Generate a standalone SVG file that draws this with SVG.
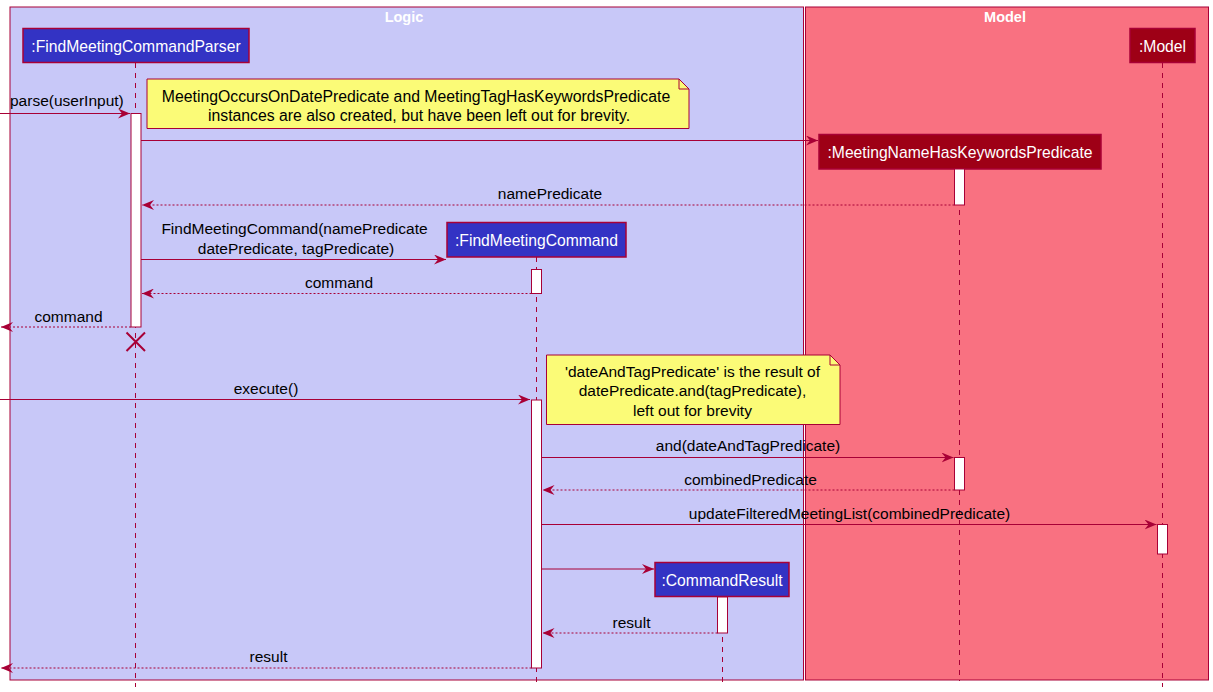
<svg xmlns="http://www.w3.org/2000/svg" width="1213" height="692" viewBox="0 0 1213 692">
<defs>
<style>
text{font-family:"Liberation Sans",Arial,sans-serif;font-size:15.5px;fill:#000}
.title{font-weight:bold;fill:#fff;font-size:14.5px;text-anchor:middle}
.pname{fill:#fff;text-anchor:middle;font-size:15.7px}
.lbl{text-anchor:middle}
.nt{text-anchor:middle;font-size:15.8px}
.plog{fill:#3333C4;stroke:#A80036;stroke-width:1.5}
.pmod{fill:#9E0016;stroke:#A80036;stroke-width:1.5}
.life{stroke:#A80036;stroke-width:1;stroke-dasharray:5,5;fill:none}
.act{fill:#fff;stroke:#A80036;stroke-width:1}
.msg{stroke:#A80036;stroke-width:1;fill:none;marker-end:url(#ah)}
.ret{stroke:#A80036;stroke-width:1;fill:none;stroke-dasharray:2,2;marker-end:url(#ah)}
.note{fill:#FBFB77;stroke:#A80036;stroke-width:1}
</style>
<marker id="ah" viewBox="0 0 12 10" refX="12" refY="5" markerWidth="12" markerHeight="10" markerUnits="userSpaceOnUse" orient="auto">
<path d="M0,0 L12,5 L0,10 L4,5 Z" fill="#A80036"/>
</marker>
</defs>

<g id="box-logic">
<rect x="10" y="7" width="793.5" height="673" fill="#C8C8F8" stroke="#A80036" stroke-width="1"/>
<text class="title" x="404" y="22">Logic</text>
</g>
<g id="box-model">
<rect x="805.5" y="7" width="403" height="673" fill="#F97181" stroke="#A80036" stroke-width="1"/>
<text class="title" x="1005" y="22">Model</text>
</g>

<g id="lifelines">
<line class="life" x1="135.5" y1="63" x2="135.5" y2="687"/>
<line class="life" x1="536.5" y1="257" x2="536.5" y2="687"/>
<line class="life" x1="722.5" y1="597" x2="722.5" y2="687"/>
<line class="life" x1="959.5" y1="170" x2="959.5" y2="681"/>
<line class="life" x1="1162.5" y1="63" x2="1162.5" y2="687"/>
</g>

<g id="p-parser">
<rect class="plog" x="23" y="28.5" width="226" height="34"/>
<text class="pname" x="136" y="51.5">:FindMeetingCommandParser</text>
</g>
<g id="p-model">
<rect class="pmod" x="1130" y="28.5" width="65" height="34"/>
<text class="pname" x="1162.5" y="51.5">:Model</text>
</g>
<g id="p-namepred">
<rect class="pmod" x="819" y="134.5" width="282" height="34.5"/>
<text class="pname" x="960" y="157.5">:MeetingNameHasKeywordsPredicate</text>
</g>
<g id="p-findcmd">
<rect class="plog" x="447" y="222.5" width="179" height="34.5"/>
<text class="pname" x="536.5" y="245.5">:FindMeetingCommand</text>
</g>
<g id="p-cmdresult">
<rect class="plog" x="655" y="562.5" width="134" height="34"/>
<text class="pname" x="722" y="585.5">:CommandResult</text>
</g>

<g id="activations">
<rect class="act" x="131" y="113.5" width="10" height="213.5"/>
<rect class="act" x="954.5" y="169" width="10" height="36"/>
<rect class="act" x="531.5" y="269.5" width="10" height="24"/>
<rect class="act" x="531.5" y="400" width="10" height="268"/>
<rect class="act" x="954.5" y="457.5" width="10" height="32.5"/>
<rect class="act" x="1157.5" y="524.5" width="10" height="29.5"/>
<rect class="act" x="717.5" y="597" width="10" height="36"/>
</g>

<g id="connectors">
<line class="msg" x1="0" y1="113.5" x2="130" y2="113.5"/>
<text x="10" y="106">parse(userInput)</text>
<line class="msg" x1="141" y1="140.5" x2="818" y2="140.5"/>
<line class="ret" x1="954.5" y1="205" x2="142" y2="205"/>
<text class="lbl" x="550" y="199">namePredicate</text>
<line class="msg" x1="141" y1="259.5" x2="446" y2="259.5"/>
<text class="lbl" x="294.5" y="234">FindMeetingCommand(namePredicate</text>
<text class="lbl" x="296" y="254">datePredicate, tagPredicate)</text>
<line class="ret" x1="531.5" y1="293.5" x2="142" y2="293.5"/>
<text class="lbl" x="339" y="288">command</text>
<line class="ret" x1="131" y1="327" x2="1" y2="327"/>
<text class="lbl" x="68.5" y="322">command</text>
<path d="M126.5,332.5 L145,351 M145,332.5 L126.5,351" stroke="#A80036" stroke-width="2" fill="none"/>
<line class="msg" x1="0" y1="399.5" x2="530" y2="399.5"/>
<text class="lbl" x="266" y="394">execute()</text>
<line class="msg" x1="541.5" y1="457.5" x2="953.5" y2="457.5"/>
<text class="lbl" x="748" y="451">and(dateAndTagPredicate)</text>
<line class="ret" x1="954.5" y1="490" x2="542.5" y2="490"/>
<text class="lbl" x="750.5" y="485">combinedPredicate</text>
<line class="msg" x1="541.5" y1="524.5" x2="1156.5" y2="524.5"/>
<text class="lbl" x="849.5" y="519">updateFilteredMeetingList(combinedPredicate)</text>
<line class="msg" x1="541.5" y1="569" x2="654" y2="569"/>
<line class="ret" x1="717.5" y1="633" x2="542.5" y2="633"/>
<text class="lbl" x="631.5" y="628">result</text>
<line class="ret" x1="531.5" y1="668" x2="1" y2="668"/>
<text class="lbl" x="268.5" y="662">result</text>
</g>

<g id="note-1">
<path class="note" d="M147,79 L679,79 L689,89 L689,128.5 L147,128.5 Z"/>
<path d="M679,79 L679,89 L689,89" fill="none" stroke="#A80036" stroke-width="1"/>
<text class="nt" x="416" y="102">MeetingOccursOnDatePredicate and MeetingTagHasKeywordsPredicate</text>
<text class="nt" x="419" y="121">instances are also created, but have been left out for brevity.</text>
</g>
<g id="note-2">
<path class="note" d="M546.5,355 L830,355 L840,365 L840,424.5 L546.5,424.5 Z"/>
<path d="M830,355 L830,365 L840,365" fill="none" stroke="#A80036" stroke-width="1"/>
<text class="lbl" x="692.5" y="377">'dateAndTagPredicate' is the result of</text>
<text class="lbl" x="692.5" y="396">datePredicate.and(tagPredicate),</text>
<text class="lbl" x="692.5" y="416">left out for brevity</text>
</g>
</svg>
